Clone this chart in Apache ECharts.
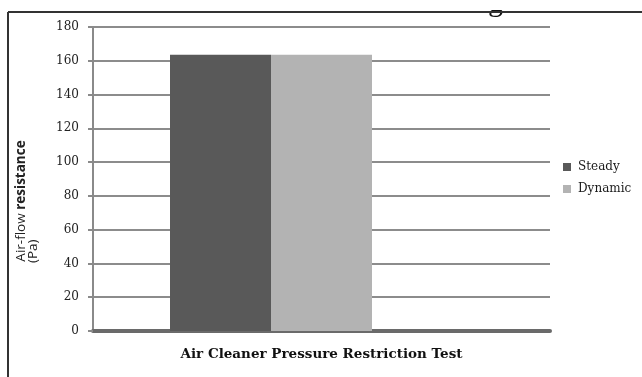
<!DOCTYPE html>
<html>
<head>
<meta charset="utf-8">
<script src="https://cdn.jsdelivr.net/npm/echarts@6/dist/echarts.min.js"></script>
<style>html,body{margin:0;padding:0;background:#fff}#c{width:642px;height:377px}</style>
</head>
<body>
<div id="c"></div>
<script>
var categories = ['Air Cleaner Pressure Restriction Test'];
var seriesNames = ['Steady', 'Dynamic'];
var steadyValues = [163.5];
var dynamicValues = [163.5];
var yTicks = { min: 0, max: 180, interval: 20 };

var chart = echarts.init(document.getElementById('c'), null, { renderer: 'canvas' });
var serif = 'DejaVu Serif';
chart.setOption({
  animation: false,
  backgroundColor: '#fff',
  legend: {
    data: seriesNames,
    orient: 'vertical',
    left: 558, top: 156,
    icon: 'rect', itemWidth: 8, itemHeight: 8, itemGap: 10,
    textStyle: { fontFamily: serif, fontSize: 12, color: '#1a1a1a', padding: [0, 0, 0, 2] }
  },
  graphic: [
    { type: 'text', left: 488, top: -12, z: 1, style: { text: 'g', font: '30px "Liberation Serif"', fill: '#111' } },
    { type: 'rect', shape: { x: 470, y: 0, width: 50, height: 10 }, z: 2, style: { fill: '#fff' } },
    { type: 'line', shape: { x1: 8, y1: 12, x2: 642, y2: 12 }, z: 3, style: { stroke: '#333', lineWidth: 2 } },
    { type: 'line', shape: { x1: 8, y1: 12, x2: 8, y2: 377 }, z: 3, style: { stroke: '#333', lineWidth: 2 } }
  ],
  grid: [
    { left: 93, right: 92, top: 27, bottom: 46 },
    { left: 93, width: 356, top: 27, bottom: 46 }
  ],
  xAxis: [
    {
      gridIndex: 0, type: 'category', data: categories,
      axisLine: { show: true, lineStyle: { color: '#6a6a6a', width: 4 } },
      axisTick: { show: false }, axisLabel: { show: false },
      name: categories[0], nameLocation: 'middle', nameGap: 16,
      nameTextStyle: { fontFamily: serif, fontWeight: 'bold', fontSize: 13.5, color: '#111' }
    },
    {
      gridIndex: 1, type: 'category', data: categories,
      axisLine: { show: false }, axisTick: { show: false }, axisLabel: { show: false }
    }
  ],
  yAxis: [
    {
      gridIndex: 0, type: 'value', min: yTicks.min, max: yTicks.max, interval: yTicks.interval,
      axisLine: { show: true, lineStyle: { color: '#8a8a8a', width: 2 } },
      axisTick: { show: true, length: 5, lineStyle: { color: '#8a8a8a', width: 2 } },
      axisLabel: { fontFamily: serif, fontSize: 12, color: '#222', margin: 14 },
      splitLine: { lineStyle: { color: '#8c8c8c', width: 2 } },
      name: '{n|Air-flow }{b|resistance}\n{p|(Pa)}',
      nameLocation: 'middle', nameRotate: 90, nameGap: 54,
      nameTextStyle: {
        fontFamily: 'Open Sans', fontSize: 13.5, color: '#222', lineHeight: 12,
        padding: [0, 44, 0, 0],
        rich: {
          n: { fontFamily: 'Open Sans', fontSize: 13.5, color: '#222', lineHeight: 12 },
          b: { fontFamily: 'Open Sans', fontSize: 13.5, fontWeight: 'bold', color: '#222', lineHeight: 12 },
          p: { fontFamily: 'Open Sans', fontSize: 13.5, color: '#222', width: 124, align: 'left', lineHeight: 12 }
        }
      }
    },
    {
      gridIndex: 1, type: 'value', min: yTicks.min, max: yTicks.max, interval: yTicks.interval,
      axisLine: { show: false }, axisTick: { show: false }, axisLabel: { show: false }, splitLine: { show: false }
    }
  ],
  series: [
    { name: seriesNames[0], type: 'bar', xAxisIndex: 1, yAxisIndex: 1, data: steadyValues, barWidth: 101, barGap: '0%', itemStyle: { color: '#595959' } },
    { name: seriesNames[1], type: 'bar', xAxisIndex: 1, yAxisIndex: 1, data: dynamicValues, barWidth: 101, barGap: '0%', itemStyle: { color: '#b3b3b3' } }
  ]
});
</script>
</body>
</html>
